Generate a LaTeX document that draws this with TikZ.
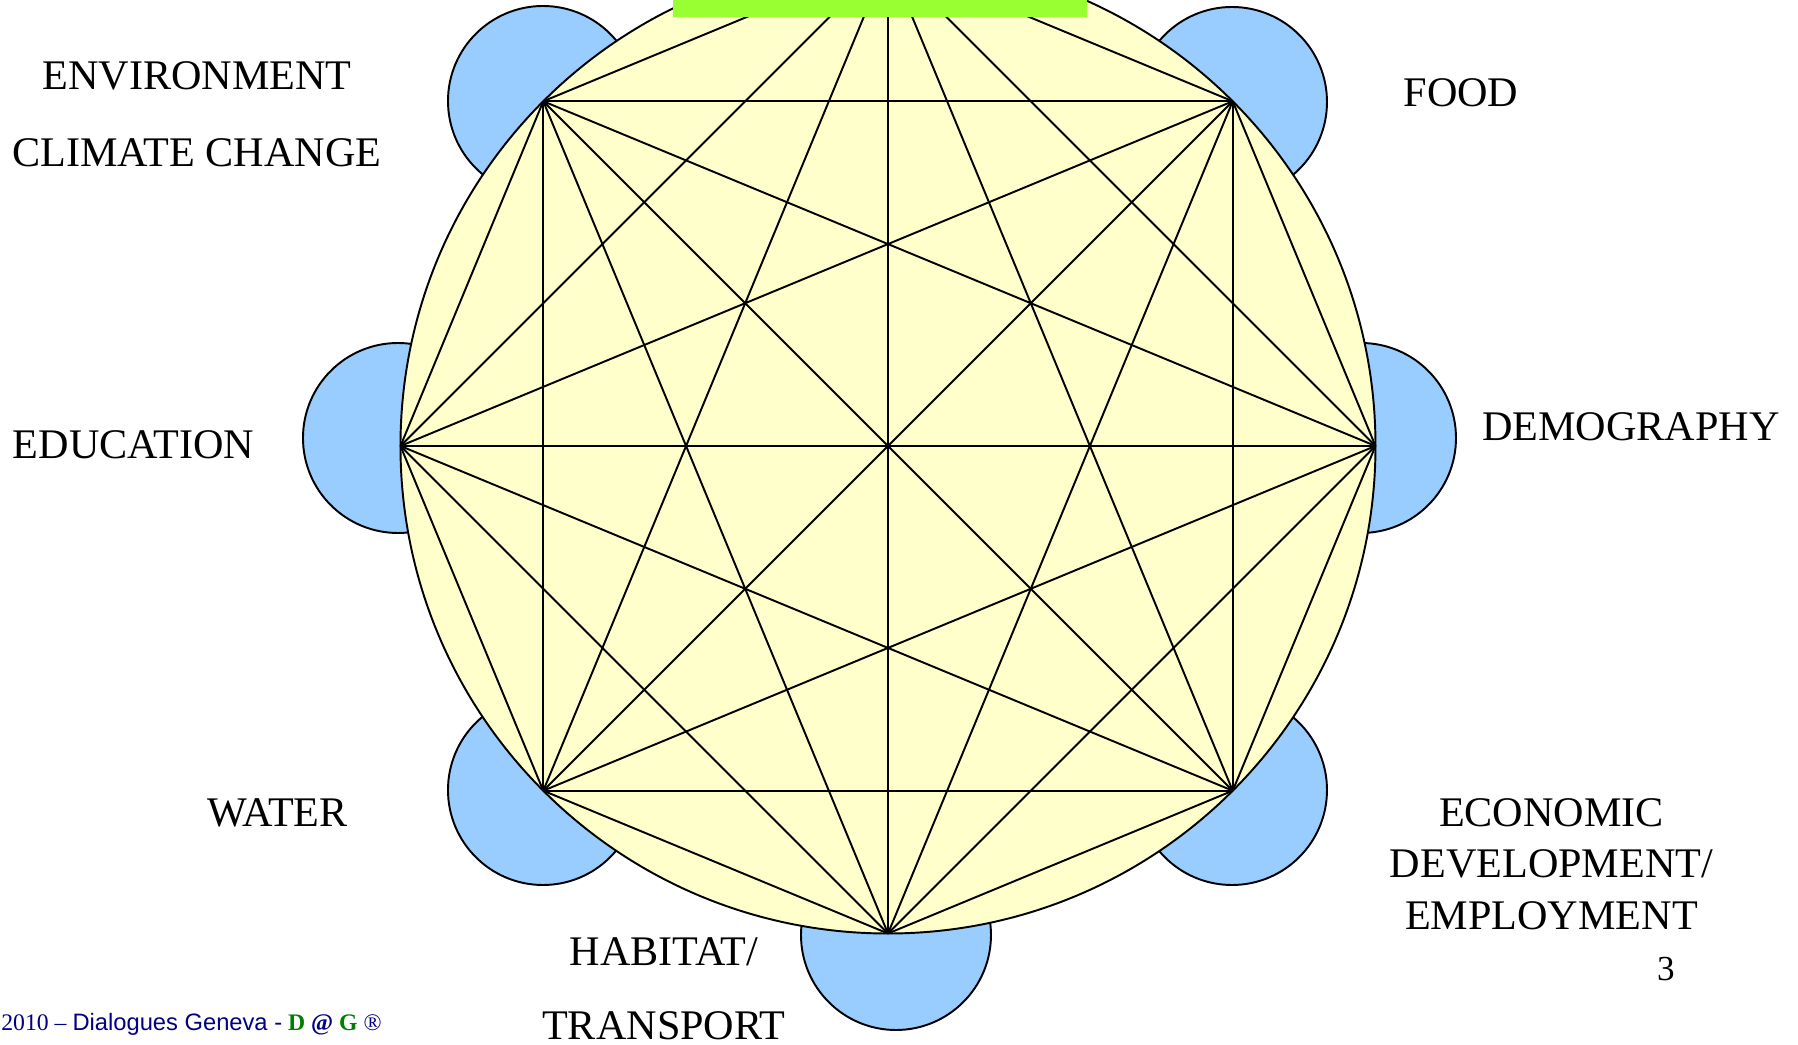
\documentclass[tikz,border=0pt]{standalone}
\usepackage{fontspec}
\setmainfont{Liberation Serif}
\newfontfamily\footsans{Liberation Sans}
\usepackage{tikz}
\usetikzlibrary{shapes,positioning,calc}
\usepackage{xcolor}
\definecolor{seatblue}{HTML}{99CCFF}
\definecolor{tableyellow}{HTML}{FFFFCC}
\definecolor{titlegreen}{HTML}{99FF33}
\definecolor{footnavy}{HTML}{000080}
\definecolor{dggreen}{HTML}{008000}

\begin{document}
\begin{tikzpicture}[
  seat/.style={circle, draw, line width=1.1pt, fill=seatblue, minimum size=3.8cm, inner sep=0pt},
  roundtable/.style={circle, draw, line width=1.1pt, fill=tableyellow, minimum size=19.5cm, inner sep=0pt, outer sep=0pt},
  link/.style={line width=1.1pt},
  titlebar/.style={rectangle, fill=titlegreen, minimum width=8.28cm, minimum height=1cm, inner sep=0pt},
  topic/.style={anchor=base, align=center, font=\fontsize{24}{29.3}\selectfont}
]
  \useasboundingbox (-17.76,-11.98) rectangle (18.2,8.92);
  % seats round the table
  \node[seat] (food)  at (6.88,6.88)   {};
  \node[seat] (env)   at (-6.9,6.9)    {};
  \node[seat] (edu)   at (-9.8,0.16)   {};
  \node[seat] (demo)  at (9.46,0.16)   {};
  \node[seat] (water) at (-6.9,-6.88)  {};
  \node[seat] (econ)  at (6.88,-6.88)  {};
  \node[seat] (hab)   at (0.16,-9.78)  {};
  % the table and every chord between its corners
  \node[roundtable] (table) at (0,0) {};
  \foreach \i in {0,...,7}{\coordinate (v\i) at (\i*45:9.75);}
  \foreach \i in {0,...,6}{
    \pgfmathtruncatemacro{\k}{\i+1}
    \foreach \j in {\k,...,7}{\draw[link] (v\i) -- (v\j);}
  }
  \node[titlebar, anchor=south west] (title) at (-4.3,8.58) {};
  % labels
  \node[topic] (envlabel)   at (-13.82,7.12) {ENVIRONMENT};
  \node[topic] (climlabel)  at (-13.82,5.58) {CLIMATE CHANGE};
  \node[topic] (foodlabel)  at (11.46,6.78)  {FOOD};
  \node[topic] (demolabel)  at (14.86,0.1)   {DEMOGRAPHY};
  \node[topic] (edulabel)   at (-15.09,-0.26) {EDUCATION};
  \node[topic] (waterlabel) at (-12.21,-7.6) {WATER};
  \node[topic] (econlabel)  at (13.27,-9.66) {ECONOMIC\\DEVELOPMENT/\\EMPLOYMENT};
  \node[topic] (hablabel)   at (-4.48,-10.38) {HABITAT/};
  \node[topic] (translabel) at (-4.48,-11.86) {TRANSPORT};
  \node[anchor=base, font=\fontsize{20}{24}\selectfont] (pageno) at (15.56,-10.68) {3};
  \node[anchor=base east, inner sep=0pt, text=footnavy, font=\fontsize{13.5}{16}\selectfont] (footer) at (-10.12,-11.68)
    {2010 -- {\footsans Dialogues Geneva -} \textbf{\textcolor{dggreen}{D} @ \textcolor{dggreen}{G}} \textregistered};
\end{tikzpicture}
\end{document}
